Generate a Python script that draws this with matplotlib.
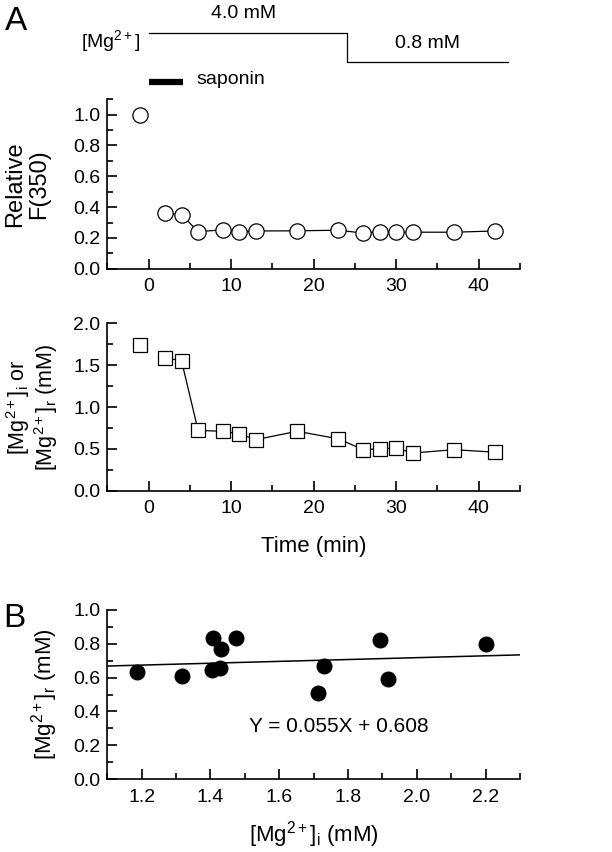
import matplotlib
matplotlib.use('Agg')
import matplotlib.pyplot as plt
from matplotlib.ticker import MultipleLocator, FormatStrFormatter
import numpy as np

plt.rcParams['font.family'] = ['Liberation Sans', 'DejaVu Sans']
plt.rcParams['mathtext.fontset'] = 'custom'
plt.rcParams['mathtext.rm'] = 'Liberation Sans'
plt.rcParams['mathtext.it'] = 'Liberation Sans:italic'
plt.rcParams['mathtext.default'] = 'regular'

# ---- data ----
time_min = [-1, 2, 4, 6, 9, 11, 13, 18, 23, 26, 28, 30, 32, 37, 42]
rel_f350 = [1.0, 0.361, 0.350, 0.241, 0.252, 0.241, 0.245, 0.246, 0.250,
            0.231, 0.241, 0.237, 0.237, 0.237, 0.245]
mg_conc = [1.74, 1.59, 1.55, 0.72, 0.71, 0.68, 0.61, 0.71, 0.62,
           0.49, 0.50, 0.51, 0.45, 0.49, 0.46]

mg_i = [1.186, 1.316, 1.408, 1.432, 1.473, 1.404, 1.427, 1.731, 1.713, 1.894, 1.915, 2.200]
mg_r = [0.631, 0.609, 0.832, 0.769, 0.832, 0.645, 0.655, 0.669, 0.507, 0.822, 0.592, 0.797]
fit_slope = 0.055
fit_intercept = 0.608

mg_step_times = [0, 24, 43.5]
mg_step_labels = ['4.0 mM', '0.8 mM']
saponin_times = [0, 4.2]

# ---- layout ----
W_PX, H_PX = 612, 852
fig = plt.figure(figsize=(W_PX / 100, H_PX / 100), dpi=100)

def rect(l, t, r, b):
    return [l / W_PX, 1 - b / H_PX, (r - l) / W_PX, (b - t) / H_PX]

ax_d = fig.add_axes(rect(107.3, 0, 520, 99.3))
ax1 = fig.add_axes(rect(107.3, 99.3, 520, 268.7))
ax2 = fig.add_axes(rect(107.3, 323.3, 520, 490.7))
ax3 = fig.add_axes(rect(107.3, 610, 520, 779))

TICK_FS = 14
LABEL_FS = 16
TEXT_FS = 14

def style(ax):
    for s in ['top', 'right']:
        ax.spines[s].set_visible(False)
    for s in ['left', 'bottom']:
        ax.spines[s].set_linewidth(1.2)
    ax.tick_params(which='major', direction='in', length=7, width=1.2,
                   labelsize=TICK_FS, pad=5)
    ax.tick_params(axis='x', which='major', pad=7)
    ax.tick_params(which='minor', direction='in', length=4, width=1.2)

# ---- diagram ----
ax_d.set_xlim(-5, 45)
ax_d.set_ylim(99.3, 0)
ax_d.axis('off')
ax_d.plot([mg_step_times[0], mg_step_times[1], mg_step_times[1], mg_step_times[2]],
          [32.7, 32.7, 62, 62], color='black', lw=0.9, clip_on=False)
ax_d.plot(saponin_times, [81.7, 81.7], color='black', lw=4.5,
          solid_capstyle='butt', clip_on=False)
ax_d.text((mg_step_times[0] + mg_step_times[1]) / 2 - 0.5, 18.3, mg_step_labels[0],
          ha='center', va='baseline', fontsize=TEXT_FS)
ax_d.text((mg_step_times[1] + mg_step_times[2]) / 2, 48.3, mg_step_labels[1],
          ha='center', va='baseline', fontsize=TEXT_FS)
ax_d.text(-1.0, 46.7, '[Mg$^{2+}$]', ha='right', va='baseline', fontsize=TEXT_FS,
          clip_on=False)
ax_d.text(5.8, 80, 'saponin', ha='left', va='center', fontsize=TEXT_FS)

# ---- panel A top ----
style(ax1)
ax1.plot(time_min[1:], rel_f350[1:], color='black', lw=0.9, zorder=1)
ax1.plot(time_min, rel_f350, linestyle='none', marker='o', ms=11,
         mfc='white', mec='black', mew=0.9, zorder=2, clip_on=False)
ax1.set_xlim(-5, 45)
ax1.set_ylim(0, 1.1)
ax1.xaxis.set_major_locator(MultipleLocator(10))
ax1.xaxis.set_minor_locator(MultipleLocator(5))
ax1.yaxis.set_major_locator(MultipleLocator(0.2))
ax1.yaxis.set_minor_locator(MultipleLocator(0.1))
ax1.yaxis.set_major_formatter(FormatStrFormatter('%.1f'))
ax1.set_ylabel('Relative\nF(350)', fontsize=LABEL_FS + 1, va='center',
               linespacing=1.1)
ax1.yaxis.set_label_coords(-0.195, 0.5)

# ---- panel A bottom ----
style(ax2)
ax2.plot(time_min[1:], mg_conc[1:], color='black', lw=0.9, zorder=1)
ax2.plot(time_min, mg_conc, linestyle='none', marker='s', ms=9.5,
         mfc='white', mec='black', mew=0.9, zorder=2, clip_on=False)
ax2.set_xlim(-5, 45)
ax2.set_ylim(0, 2.0)
ax2.xaxis.set_major_locator(MultipleLocator(10))
ax2.xaxis.set_minor_locator(MultipleLocator(5))
ax2.yaxis.set_major_locator(MultipleLocator(0.5))
ax2.yaxis.set_minor_locator(MultipleLocator(0.25))
ax2.yaxis.set_major_formatter(FormatStrFormatter('%.1f'))
ax2.set_ylabel('[Mg$^{2+}$]$_{i}$ or\n[Mg$^{2+}$]$_{r}$ (mM)',
               fontsize=LABEL_FS - 0.5, va='center', linespacing=1.0)
ax2.yaxis.set_label_coords(-0.183, 0.5)
ax2.set_xlabel('Time (min)', fontsize=LABEL_FS, va='center')
ax2.xaxis.set_label_coords(0.5, -0.332)

# ---- panel B ----
style(ax3)
ax3.set_xlim(1.1, 2.3)
ax3.set_ylim(0, 1.0)
xfit = np.array(ax3.get_xlim())
ax3.plot(xfit, fit_slope * xfit + fit_intercept, color='black', lw=1.1, zorder=1)
ax3.plot(mg_i, mg_r, linestyle='none', marker='o', ms=10.5,
         mfc='black', mec='black', zorder=2, clip_on=False)
ax3.xaxis.set_major_locator(MultipleLocator(0.2))
ax3.xaxis.set_minor_locator(MultipleLocator(0.1))
ax3.yaxis.set_major_locator(MultipleLocator(0.2))
ax3.yaxis.set_minor_locator(MultipleLocator(0.1))
ax3.xaxis.set_major_formatter(FormatStrFormatter('%.1f'))
ax3.yaxis.set_major_formatter(FormatStrFormatter('%.1f'))
ax3.set_ylabel('[Mg$^{2+}$]$_{r}$ (mM)', fontsize=LABEL_FS, va='center')
ax3.yaxis.set_label_coords(-0.151, 0.5)
ax3.set_xlabel('[Mg$^{2+}$]$_{i}$ (mM)', fontsize=LABEL_FS, va='center')
ax3.xaxis.set_label_coords(0.5, -0.331)
ax3.text(1.773, 0.31, 'Y = %.3fX + %.3f' % (fit_slope, fit_intercept),
         ha='center', va='center', fontsize=TEXT_FS + 1)

# ---- panel letters ----
fig.text(5 / W_PX, 1 - 30 / H_PX, 'A', fontsize=24, ha='left', va='baseline')
fig.text(3 / W_PX, 1 - 627 / H_PX, 'B', fontsize=24, ha='left', va='baseline')

fig.savefig('out.png', dpi=100)
